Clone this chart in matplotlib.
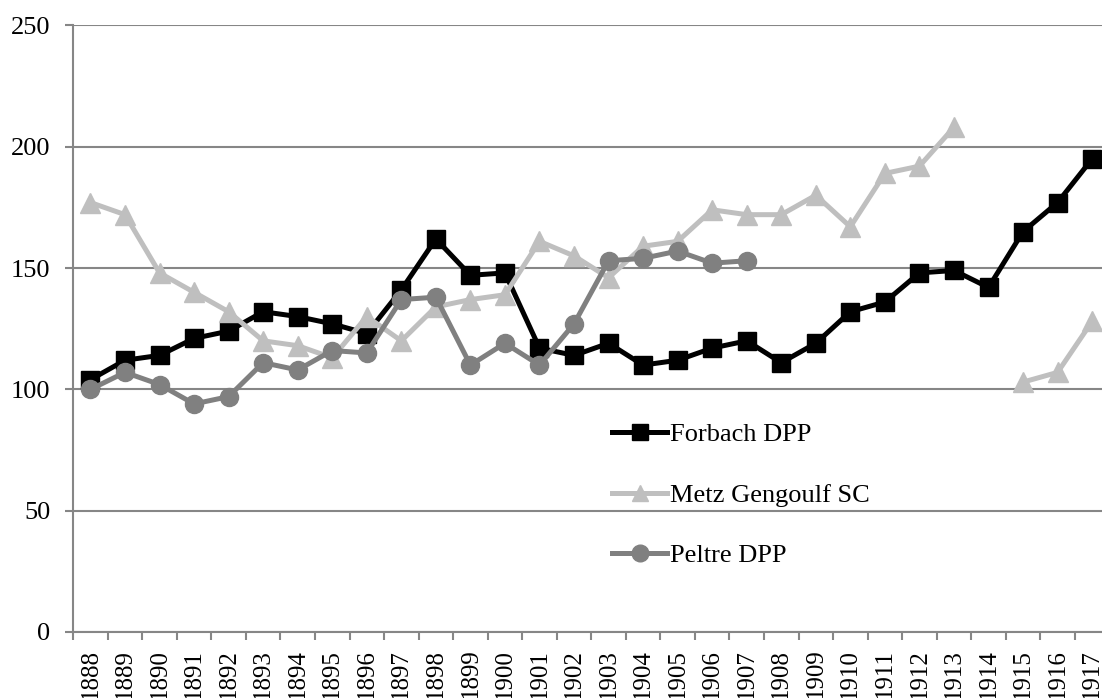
import numpy as np
import matplotlib
matplotlib.use("Agg")
import matplotlib.pyplot as plt

# === Data ===
years = [str(y) for y in range(1888, 1918)]

forbach = [104, 112, 114, 121, 124, 132, 130, 127, 123, 141,
           162, 147, 148, 117, 114, 119, 110, 112, 117, 120,
           111, 119, 132, 136, 148, 149, 142, 165, 177, 195]

metz = [177, 172, 148, 140, 132, 120, 118, 113, 130, 120,
        134, 137, 139, 161, 155, 146, 159, 161, 174, 172,
        172, 180, 167, 189, 192, 208, None, 103, 107, 128]

peltre = [100, 107, 102, 94, 97, 111, 108, 116, 115, 137,
          138, 110, 119, 110, 127, 153, 154, 157, 152, 153,
          None, None, None, None, None, None, None, None, None, None]

series_names = ["Forbach DPP", "Metz Gengoulf SC", "Peltre DPP"]
y_ticks = [0, 50, 100, 150, 200, 250]

def to_arr(vals):
    return np.array([np.nan if v is None else v for v in vals], dtype=float)

# === Style ===
plt.rcParams['font.family'] = ['Liberation Serif', 'DejaVu Serif']
plt.rcParams['font.size'] = 19

W, H = 1102, 698
fig = plt.figure(figsize=(W / 100, H / 100), dpi=100)
ax = fig.add_axes([73.2 / W, 1 - 632 / H, (1109.4 - 73.2) / W, (632 - 25.4) / H])

x = np.arange(len(years))
grid_col = '#868686'

ax.plot(x, to_arr(forbach), color='black', lw=3.6, marker='s', ms=13,
        label=series_names[0], zorder=3)
ax.plot(x, to_arr(metz), color='#bfbfbf', lw=3.6, marker='^', ms=14,
        label=series_names[1], zorder=3)
ax.plot(x, to_arr(peltre), color='#808080', lw=3.6, marker='o', ms=13,
        label=series_names[2], zorder=3)

ax.set_xlim(-0.5, len(years) - 0.5)
ax.set_ylim(0, 250)
ax.set_yticks(y_ticks)
ax.yaxis.grid(True, color=grid_col, lw=1.5)
ax.set_axisbelow(True)

ax.set_xticks(x)
ax.set_xticklabels(years, rotation=90, fontsize=18)
ax.set_xticks(np.arange(len(years) + 1) - 0.5, minor=True)
ax.tick_params(axis='x', which='major', length=0, pad=12)
ax.tick_params(axis='x', which='minor', length=6, width=1.5, color=grid_col)
ax.tick_params(axis='y', length=5.5, width=1.5, color=grid_col, pad=11)

for side in ['top', 'right']:
    ax.spines[side].set_visible(False)
for side in ['left', 'bottom']:
    ax.spines[side].set_color(grid_col)
    ax.spines[side].set_linewidth(1.5)

leg = ax.legend(loc='upper left', bbox_to_anchor=(612 / W, 1 - 423 / H),
                bbox_transform=fig.transFigure, frameon=False,
                borderpad=0, borderaxespad=0, handlelength=2.1,
                handletextpad=0.1, labelspacing=1.4, fontsize=19)
for h in leg.legend_handles:
    h.set_markersize(12)

fig.savefig("out.png", dpi=100)
